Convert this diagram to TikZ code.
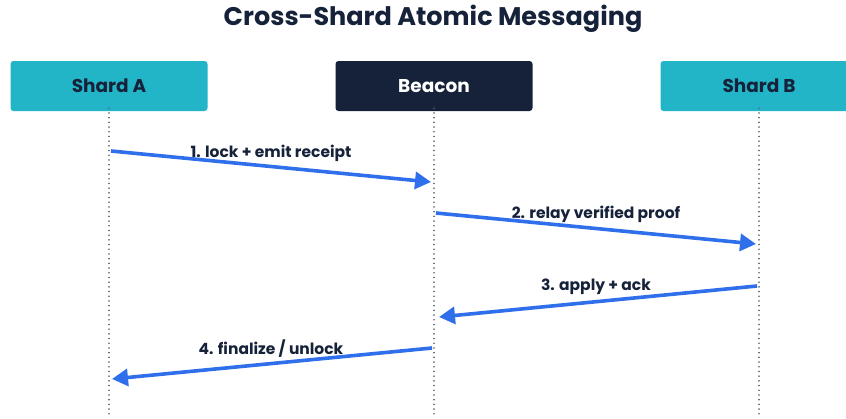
\documentclass[tikz,border=0pt]{standalone}
\usepackage{fontspec}
\setmainfont{Poppins}
\usetikzlibrary{arrows.meta}
\definecolor{teal}{HTML}{22B5C8}
\definecolor{navy}{HTML}{16223A}
\definecolor{msgblue}{HTML}{2F6FEB}
\definecolor{lifegray}{HTML}{5C6472}
\tikzset{
  actor/.style={rounded corners=3pt, minimum width=197pt, minimum height=50pt,
    inner sep=0pt, font=\fontsize{18.5}{20}\selectfont\bfseries},
  shard/.style={actor, fill=teal, text=navy},
  hub/.style={actor, fill=navy, text=white},
  lifeline/.style={lifegray, line width=1.6pt, line cap=round, dash pattern=on 0.1pt off 4.6pt},
  msg/.style={msgblue, line width=3.6pt, -{Triangle[length=16pt,width=17pt]}},
  msglabel/.style={font=\fontsize{15.5}{17}\selectfont\bfseries, text=navy, inner sep=0pt}
}
\begin{document}
\begin{tikzpicture}[x=1pt, y=-1pt]
  \clip (0,0) rectangle (846,418);
  \fill[white] (0,0) rectangle (846,418);

  % title
  \node[font=\fontsize{25.5}{28}\selectfont\bfseries, text=navy] (title) at (433,19) {Cross-Shard Atomic Messaging};

  % participants
  \node[shard] (a) at (109,86) {Shard A};
  \node[hub]   (b) at (434,86) {Beacon};
  \node[shard] (s) at (759,86) {Shard B};

  % lifeline ends
  \coordinate (aend) at (109,418);
  \coordinate (bend) at (434,418);
  \coordinate (send) at (759,418);
  \draw[lifeline] ([yshift=3pt]a.south) -- (aend);
  \draw[lifeline] ([yshift=3pt]b.south) -- (bend);
  \draw[lifeline] ([yshift=3pt]s.south) -- (send);

  % message end points on the lifelines
  \coordinate (m1s) at (111,151); \coordinate (m1e) at (431,182);
  \coordinate (m2s) at (436,213); \coordinate (m2e) at (756,244);
  \coordinate (m3s) at (757,286); \coordinate (m3e) at (439,317);
  \coordinate (m4s) at (432,348); \coordinate (m4e) at (112,379);

  \draw[msg] (m1s) -- (m1e);
  \draw[msg] (m2s) -- (m2e);
  \draw[msg] (m3s) -- (m3e);
  \draw[msg] (m4s) -- (m4e);

  % message labels
  \node[msglabel] (l1) at (271,153) {1. lock + emit receipt};
  \node[msglabel] (l2) at (596,214) {2. relay verified proof};
  \node[msglabel] (l3) at (596,287) {3. apply + ack};
  \node[msglabel] (l4) at (271,349) {4. finalize / unlock};
\end{tikzpicture}
\end{document}
